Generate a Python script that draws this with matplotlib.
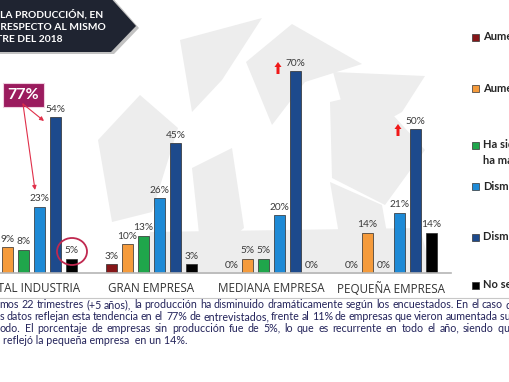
import matplotlib
matplotlib.use("Agg")
import matplotlib.pyplot as plt
from matplotlib.patches import Polygon, Rectangle, Ellipse, FancyArrow
import numpy as np

plt.rcParams["font.family"] = ["Lato", "DejaVu Sans"]

# --- data ---
groups = ["TOTAL INDUSTRIA", "GRAN EMPRESA", "MEDIANA EMPRESA", "PEQUEÑA EMPRESA"]
series = ["Aumentó mucho", "Aumentó", "Ha sido igual /\nha mantenido",
          "Disminuyó", "Disminuyó mucho", "No se produjo"]
colors = ["#861719", "#f59b3c", "#1fa64b", "#1e8ad6", "#1d4a8c", "#000000"]
aumento_mucho = [2, 3, 0, 0]
aumento = [9, 10, 5, 14]
igual = [8, 13, 5, 0]
disminuyo = [23, 26, 20, 21]
disminuyo_mucho = [54, 45, 70, 50]
no_produjo = [5, 3, 0, 14]
values = [aumento_mucho, aumento, igual, disminuyo, disminuyo_mucho, no_produjo]

title_lines = ["EVOLUCIÓN DE LA PRODUCCIÓN, EN",
               "EL I TRIMESTRE 2019 EN RESPECTO AL MISMO",
               "TRIMESTRE DEL 2018"]
text_lines = [
    ("mos 22 trimestres (+5 años), la producción ha disminuido dramáticamente "
     "según los encuestados. En el caso", "del total de la industria,"),
    ("s datos reflejan esta tendencia en el  77% de entrevistados, frente al 11% "
     "de empresas que vieron aumentada", "su producción en este"),
    ("odo. El porcentaje de empresas sin producción fue de 5%, lo que es "
     "recurrente en todo el año, siendo", "que el mayor"),
]
last_line = "reflejó la pequeña empresa  en un 14%."

W, H = 510, 382
fig = plt.figure(figsize=(W / 100, H / 100), dpi=100)
fig.patch.set_facecolor("white")

# background layer (pixel coordinates)
back = fig.add_axes([0, 0, 1, 1])
back.set_xlim(0, W)
back.set_ylim(H, 0)
back.axis("off")
back.set_zorder(0)
shards = [
    [(180, 40), (262, 18), (222, 80), (192, 112)],
    [(246, 62), (292, 24), (362, 64), (305, 82), (272, 125)],
    [(333, 72), (425, 76), (402, 112), (352, 140)],
    [(330, 102), (372, 92), (425, 150), (385, 205), (332, 178)],
    [(98, 140), (140, 95), (178, 128), (152, 212), (112, 222)],
    [(192, 168), (232, 148), (244, 228), (202, 262)],
    [(330, 182), (382, 205), (392, 262), (342, 252)],
    [(150, 232), (420, 228), (432, 274), (140, 274)],
]
for pts in shards:
    back.add_patch(Polygon(pts, closed=True, fc="#ededed", ec="none"))

# chart axes: group centres at px 31.5 ... 391.5, 120 px per group
base_px = 273
px_per_pct = 2.88
ax_h = 80 * px_per_pct
ax = fig.add_axes([-28.5 / W, (H - base_px) / H, 480 / W, ax_h / H])
ax.set_zorder(1)
ax.patch.set_alpha(0)
x = np.arange(len(groups))
pitch = 16 / 120
bw = 11 / 120
for i, (vals, c) in enumerate(zip(values, colors)):
    bars = ax.bar(x + (i - 2.5) * pitch, vals, bw, color=c,
                  edgecolor="#2b2b2b", linewidth=0.5)
    ax.bar_label(bars, labels=[f"{v}%" for v in vals], padding=2.5,
                 fontsize=7.3, color="#3a3a3a")
ax.set_xlim(-0.5, 3.5)
ax.set_ylim(0, 80)
for s in ["top", "right", "left"]:
    ax.spines[s].set_visible(False)
ax.spines["bottom"].set_color("#b5b5b5")
ax.spines["bottom"].set_linewidth(1.2)
ax.set_yticks([])
ax.set_xticks(x, groups, fontsize=8.4, color="#333333", family="Open Sans")
ax.tick_params(axis="x", length=0, pad=6.5)

# front layer for annotations
front = fig.add_axes([0, 0, 1, 1])
front.set_xlim(0, W)
front.set_ylim(H, 0)
front.axis("off")
front.set_zorder(2)
front.patch.set_alpha(0)

# title box
front.add_patch(Polygon([(-5, -5), (110, -5), (139, 28), (114, 54), (-5, 54)],
                        closed=True, fc="#9a9a9a", ec="none", alpha=0.6))
front.add_patch(Polygon([(-5, -5), (108, -5), (136, 26), (111, 52), (-5, 52)],
                        closed=True, fc="#1f2431", ec="none"))
for ln, (xr, yc) in zip(title_lines, [(103, 14), (106, 27), (63, 40)]):
    front.text(xr, yc, ln, ha="right", va="center", color="white",
               fontsize=7.4, fontweight="bold")

# 77% box and arrows
front.add_patch(Rectangle((3, 83), 41, 24, fc="#9b1b5e", ec="#f0d0e0", lw=0.8))
front.text(23.5, 95, "77%", ha="center", va="center", color="white",
           fontsize=11.5, fontweight="bold")
for tx, ty in [(44, 121), (35, 190)]:
    front.annotate("", xy=(tx, ty), xytext=(23, 104),
                   arrowprops=dict(arrowstyle="-|>", color="#e0304a", lw=0.8,
                                   mutation_scale=6, shrinkA=0, shrinkB=0))
front.add_patch(Ellipse((72, 251.5), 30, 27, fc="none", ec="#c0284f", lw=1.3))

# red up arrows
for ax_x, y0 in [(278, 74), (398, 136)]:
    front.add_patch(FancyArrow(ax_x, y0, 0, -12, width=3, head_width=7,
                               head_length=5, length_includes_head=True,
                               fc="#f01818", ec="none"))

# legend
leg_y = [37, 88, 145, 186, 237, 285]
for lab, c, ly in zip(series, colors, leg_y):
    front.add_patch(Rectangle((472, ly - 3.5), 7, 7, fc=c, ec="#333333", lw=0.5))
    first, *rest = lab.split("\n")
    front.text(483, ly, first, ha="left", va="center", fontsize=8,
               fontweight="bold", color="#262626")
    for k, r in enumerate(rest, 1):
        front.text(483, ly + 16 * k, r, ha="left", va="center", fontsize=8,
                   fontweight="bold", color="#262626")

# separator line and paragraph
front.plot([0, W], [298, 298], color="#c8c8c8", lw=0.8)
txt_kw = dict(fontsize=7.7, color="#23235a", va="center", ha="left")
renderer = fig.canvas.get_renderer()


def justify(words, x0, x1, y, tail):
    arts = [front.text(0, y, w, **txt_kw) for w in words]
    widths = [a.get_window_extent(renderer).width for a in arts]
    gap = max((x1 - x0 - sum(widths)) / (len(words) - 1), 1.5)
    xx = x0
    for a, w in zip(arts, widths):
        a.set_x(xx)
        xx += w + gap
    front.text(xx, y, tail, **txt_kw)


for (ln, tail), (x0, x1, y) in zip(text_lines, [(-1, 503, 305), (0, 498, 317),
                                                 (0, 494, 328)]):
    justify(ln.split(" "), x0, x1, y, tail)
front.text(3, 340, last_line, **txt_kw)

fig.savefig("out.png", dpi=100)
